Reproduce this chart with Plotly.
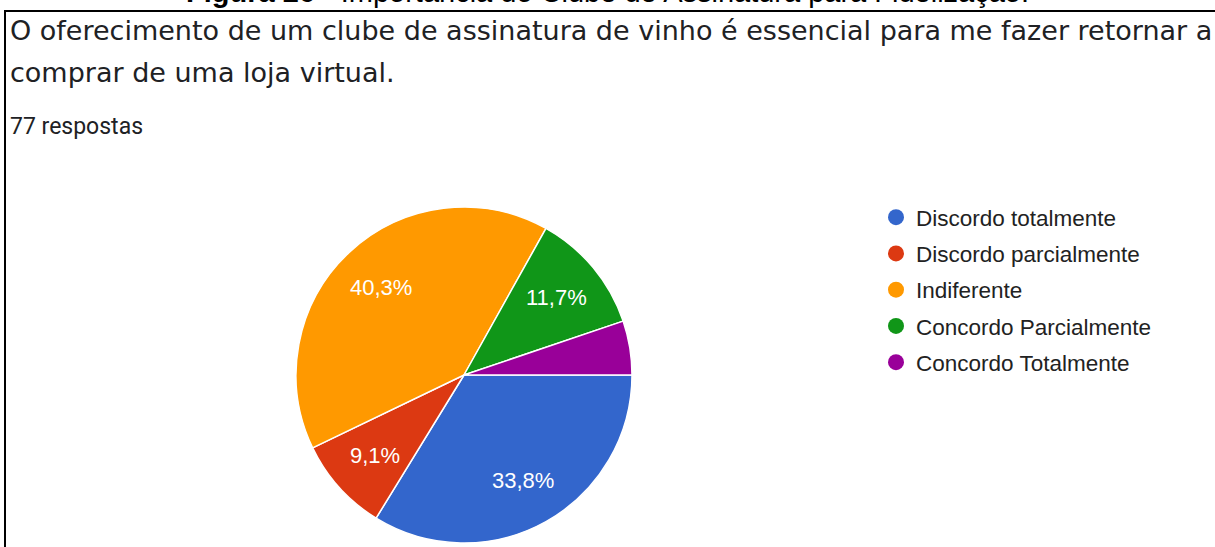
import math
import plotly.graph_objects as go

categories = ["Discordo totalmente", "Discordo parcialmente", "Indiferente",
              "Concordo Parcialmente", "Concordo Totalmente"]
counts = [26, 7, 31, 9, 4]
colors = ["#3366cc", "#dc3912", "#ff9900", "#109618", "#990099"]
show_label = [True, True, True, True, False]

W, H = 1215, 547
# pie geometry (pixels)
PX0, PX1, PY0, PY1 = 296, 632, 207, 543
LABEL_R = 0.717

fig = go.Figure()

fig.add_trace(go.Pie(
    labels=categories,
    values=counts,
    sort=False,
    direction="clockwise",
    rotation=90,
    marker=dict(colors=colors, line=dict(color="white", width=1.5)),
    textinfo="none",
    showlegend=False,
    hoverinfo="label+percent",
    domain=dict(x=[PX0 / W, PX1 / W], y=[1 - PY1 / H, 1 - PY0 / H]),
))

# legend entries (circle markers)
for i, (cat, col) in enumerate(zip(categories, colors)):
    fig.add_trace(go.Scatter(
        x=[None], y=[None], mode="markers", name=cat, legendgroup=f"g{i}",
        marker=dict(symbol="circle", size=16, color=col),
    ))

# percentage labels placed along slice bisectors (Google-Charts style)
total = sum(counts)
cx, cy = (PX0 + PX1) / 2, (PY0 + PY1) / 2
R = (PX1 - PX0) / 2
annotations = []
cum = 0
for v, show in zip(counts, show_label):
    mid = (cum + v / 2) / total
    cum += v
    if not show:
        continue
    th = 2 * math.pi * mid
    x = cx + LABEL_R * R * math.cos(th)
    y = cy + LABEL_R * R * math.sin(th)
    txt = f"{100 * v / total:.1f}".replace(".", ",") + "%"
    annotations.append(dict(
        text=txt, xref="paper", yref="paper", x=x / W, y=1 - y / H,
        xanchor="center", yanchor="middle", showarrow=False,
        font=dict(family="Arial", size=22, color="white"),
    ))

annotations += [
    dict(text="<b>Figura 26</b> - Importância do Clube de Assinatura para Fidelização.",
         xref="paper", yref="paper", x=607 / W, y=1 + 8 / H,
         xanchor="center", yanchor="middle", showarrow=False,
         font=dict(family="Arial", size=29, color="black")),
    dict(text="O oferecimento de um clube de assinatura de vinho é essencial para me fazer retornar a",
         xref="paper", yref="paper", x=8 / W, y=1 - 31 / H,
         xanchor="left", yanchor="middle", showarrow=False,
         font=dict(family="DejaVu Sans", size=27, color="#202124")),
    dict(text="comprar de uma loja virtual.",
         xref="paper", yref="paper", x=8 / W, y=1 - 72 / H,
         xanchor="left", yanchor="middle", showarrow=False,
         font=dict(family="DejaVu Sans", size=27, color="#202124")),
    dict(text="77 respostas",
         xref="paper", yref="paper", x=8 / W, y=1 - 127 / H,
         xanchor="left", yanchor="middle", showarrow=False,
         font=dict(family="Roboto", size=23, color="#202124")),
]

fig.update_layout(
    width=W, height=H,
    margin=dict(l=0, r=0, t=0, b=0),
    paper_bgcolor="white", plot_bgcolor="white",
    xaxis=dict(visible=False), yaxis=dict(visible=False),
    legend=dict(
        x=876 / W, y=1 - 196 / H, xanchor="left", yanchor="top",
        font=dict(family="Arial", size=22.5, color="#222222"),
        tracegroupgap=4, itemclick=False, itemdoubleclick=False,
        bgcolor="rgba(0,0,0,0)",
    ),
    shapes=[dict(
        type="rect", xref="paper", yref="paper",
        x0=5 / W, x1=1.02, y0=-0.02, y1=1 - 11 / H,
        line=dict(color="black", width=2), fillcolor="rgba(0,0,0,0)",
    )],
    annotations=annotations,
)

fig.write_html(
    "out.html",
    config={"displayModeBar": False},
    post_script="document.body.style.margin='0';document.body.style.overflow='hidden';",
)
